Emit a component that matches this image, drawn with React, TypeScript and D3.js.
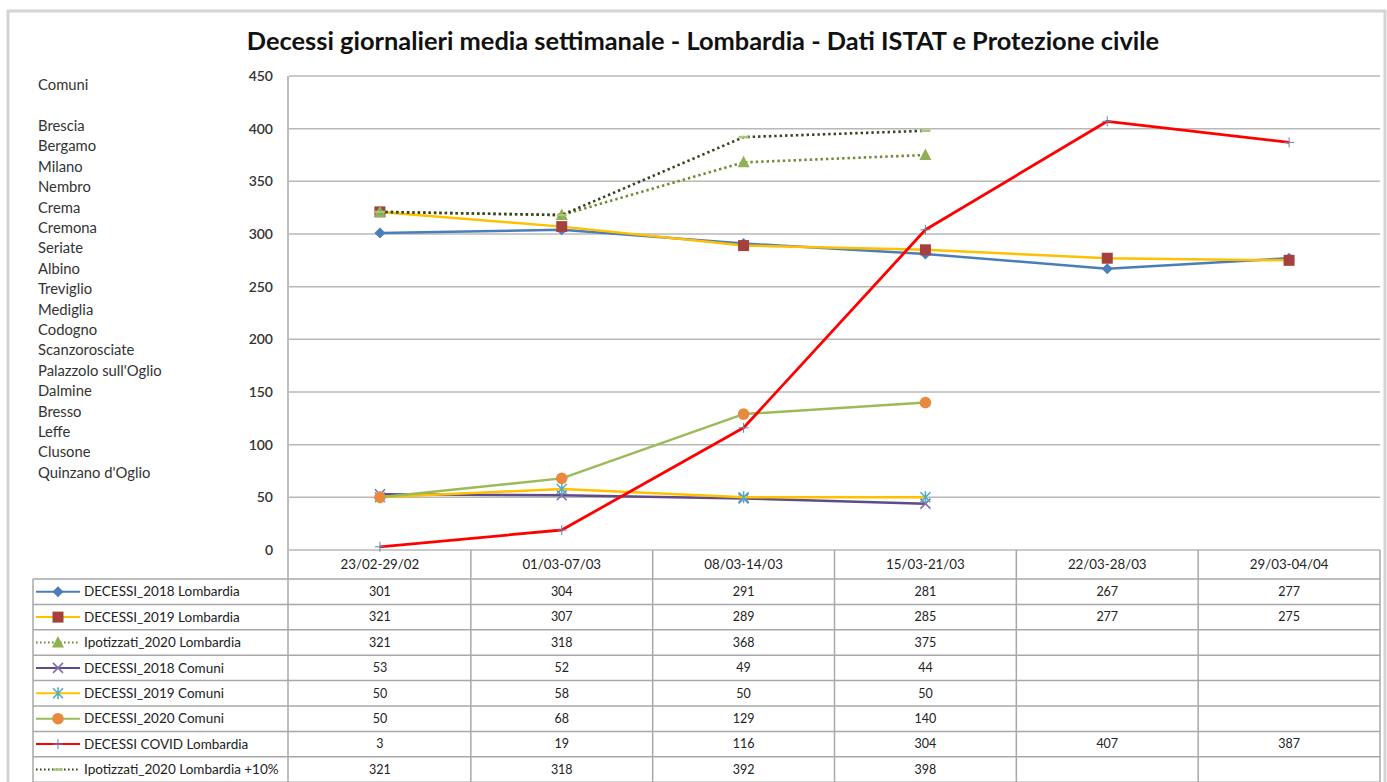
import React from "react";
import * as d3 from "d3";

const categories = ["23/02-29/02", "01/03-07/03", "08/03-14/03", "15/03-21/03", "22/03-28/03", "29/03-04/04"];
const yTicks = [0, 50, 100, 150, 200, 250, 300, 350, 400, 450];
const comuni = [
  "Brescia", "Bergamo", "Milano", "Nembro", "Crema", "Cremona", "Seriate", "Albino", "Treviglio",
  "Mediglia", "Codogno", "Scanzorosciate", "Palazzolo sull'Oglio", "Dalmine", "Bresso", "Leffe",
  "Clusone", "Quinzano d'Oglio",
];

type V = number | null;
const decessi2018Lombardia: V[] = [301, 304, 291, 281, 267, 277];
const decessi2019Lombardia: V[] = [321, 307, 289, 285, 277, 275];
const ipotizzati2020Lombardia: V[] = [321, 318, 368, 375, null, null];
const decessi2018Comuni: V[] = [53, 52, 49, 44, null, null];
const decessi2019Comuni: V[] = [50, 58, 50, 50, null, null];
const decessi2020Comuni: V[] = [50, 68, 129, 140, null, null];
const decessiCovidLombardia: V[] = [3, 19, 116, 304, 407, 387];
const ipotizzati2020Lombardia10: V[] = [321, 318, 392, 398, null, null];

type Series = {
  name: string;
  values: V[];
  line: string;
  dash?: string;
  width: number;
  marker: string;
  mcolor: string;
};

const series: Series[] = [
  { name: "DECESSI_2018 Lombardia", values: decessi2018Lombardia, line: "#4A7EBB", width: 2.5, marker: "diamond", mcolor: "#4A7EBB" },
  { name: "DECESSI_2019 Lombardia", values: decessi2019Lombardia, line: "#FFC000", width: 2.5, marker: "square", mcolor: "#A5403D" },
  { name: "Ipotizzati_2020 Lombardia", values: ipotizzati2020Lombardia, line: "#6F8C35", dash: "2.4,3", width: 2.6, marker: "triangle", mcolor: "#8FB053" },
  { name: "DECESSI_2018 Comuni", values: decessi2018Comuni, line: "#5F4A8B", width: 2.5, marker: "x", mcolor: "#7E6BA8" },
  { name: "DECESSI_2019 Comuni", values: decessi2019Comuni, line: "#FFC000", width: 2.5, marker: "star", mcolor: "#4BACC6" },
  { name: "DECESSI_2020 Comuni", values: decessi2020Comuni, line: "#9BBB59", width: 2.5, marker: "circle", mcolor: "#E9893F" },
  { name: "DECESSI COVID Lombardia", values: decessiCovidLombardia, line: "#FF0000", width: 2.8, marker: "plus", mcolor: "#6A7FB0" },
  { name: "Ipotizzati_2020 Lombardia +10%", values: ipotizzati2020Lombardia10, line: "#36441C", dash: "2.4,3", width: 2.6, marker: "dash", mcolor: "#A9C77A" },
];

const W = 1387;
const H = 782;
const plotLeft = 289;
const plotRight = 1380;
const plotTop = 76;
const plotBottom = 550;
const tableLeft = 33;
const headerBottom = 579;
const rowH = 25.4;

const FONT = "Lato, 'Open Sans', sans-serif";

function Marker({ type, cx, cy, color }: { type: string; cx: number; cy: number; color: string }) {
  switch (type) {
    case "diamond":
      return <path d={`M${cx},${cy - 5.5}L${cx + 5.5},${cy}L${cx},${cy + 5.5}L${cx - 5.5},${cy}Z`} fill={color} />;
    case "square":
      return <rect x={cx - 5.5} y={cy - 5.5} width={11} height={11} fill={color} />;
    case "triangle":
      return <path d={`M${cx},${cy - 6.5}L${cx + 6},${cy + 5}L${cx - 6},${cy + 5}Z`} fill={color} />;
    case "x":
      return (
        <path d={`M${cx - 5},${cy - 5}L${cx + 5},${cy + 5}M${cx - 5},${cy + 5}L${cx + 5},${cy - 5}`} stroke={color} strokeWidth={1.5} fill="none" />
      );
    case "star":
      return (
        <path
          d={`M${cx - 5},${cy - 5}L${cx + 5},${cy + 5}M${cx - 5},${cy + 5}L${cx + 5},${cy - 5}M${cx},${cy - 6}L${cx},${cy + 6}`}
          stroke={color}
          strokeWidth={1.5}
          fill="none"
        />
      );
    case "circle":
      return <circle cx={cx} cy={cy} r={5.8} fill={color} />;
    case "plus":
      return <path d={`M${cx - 5},${cy}L${cx + 5},${cy}M${cx},${cy - 5}L${cx},${cy + 5}`} stroke={color} strokeWidth={1} fill="none" />;
    case "dash":
      return <path d={`M${cx - 5},${cy}L${cx + 5},${cy}`} stroke={color} strokeWidth={2.5} fill="none" />;
    default:
      return null;
  }
}

export default function App() {
  const x = d3.scaleBand<string>().domain(categories).range([plotLeft, plotRight]);
  const y = d3.scaleLinear().domain([0, 450]).range([plotBottom, plotTop]);
  const cx = (i: number) => (x(categories[i]) as number) + x.bandwidth() / 2;

  const line = d3
    .line<V>()
    .defined((d) => d != null)
    .x((_, i) => cx(i))
    .y((d) => y(d as number));

  const colEdges = categories.map((c) => x(c) as number).concat([plotRight]);
  const tableBottom = headerBottom + rowH * series.length;

  return (
    <svg
      width={W}
      height={H}
      style={{ position: "absolute", left: 0, top: 0, background: "#fff" }}
      fontFamily={FONT}
    >
      <rect x={0} y={0} width={W} height={H} fill="#fff" />
      <rect x={8} y={11} width={1377} height={790} fill="#fff" stroke="#D4D4D4" strokeWidth={3} />

      <text x={703} y={50} textAnchor="middle" fontSize={25.4} fontWeight="bold" fill="#111">
        Decessi giornalieri media settimanale - Lombardia - Dati ISTAT e Protezione civile
      </text>

      {/* left text */}
      <text x={38} y={90} fontSize={14.8} fill="#333">Comuni</text>
      {comuni.map((c, i) => (
        <text key={c} x={38} y={131 + i * 20.4} fontSize={14.8} fill="#333">
          {c}
        </text>
      ))}

      {/* gridlines */}
      {yTicks.map((t) => (
        <line key={t} x1={plotLeft} x2={plotRight} y1={y(t)} y2={y(t)} stroke="#B8B8B8" strokeWidth={1.5} />
      ))}
      <line x1={plotLeft - 1} x2={plotLeft - 1} y1={plotTop} y2={tableBottom} stroke="#A8A8A8" strokeWidth={1.5} />
      {yTicks.map((t) => (
        <text key={"l" + t} x={273} y={y(t)} dy="0.35em" textAnchor="end" fontSize={14} fill="#333" fontWeight="600">
          {t}
        </text>
      ))}

      {/* table */}
      <g stroke="#A8A8A8" strokeWidth={1.5}>
        {colEdges.slice(1).map((e, i) => (
          <line key={"v" + i} x1={e} x2={e} y1={plotBottom} y2={tableBottom} />
        ))}
        <line x1={tableLeft} x2={tableLeft} y1={headerBottom} y2={tableBottom} />
        {series.map((_, i) => (
          <line key={"h" + i} x1={tableLeft} x2={plotRight} y1={headerBottom + i * rowH} y2={headerBottom + i * rowH} />
        ))}
        <line x1={tableLeft} x2={plotRight} y1={tableBottom} y2={tableBottom} />
      </g>
      {categories.map((c, i) => (
        <text key={c} x={cx(i)} y={564} dy="0.35em" textAnchor="middle" fontSize={13.3} fill="#222">
          {c}
        </text>
      ))}
      {series.map((s, r) => {
        const my = headerBottom + r * rowH + rowH / 2;
        return (
          <g key={s.name}>
            <line x1={36} x2={80} y1={my} y2={my} stroke={s.line} strokeWidth={2} strokeDasharray={s.dash ? "1.6,2.4" : undefined} />
            <Marker type={s.marker} cx={58} cy={my} color={s.mcolor} />
            <text x={84} y={my} dy="0.35em" fontSize={13.5} fill="#222">
              {s.name}
            </text>
            {s.values.map((v, i) =>
              v == null ? null : (
                <text key={i} x={cx(i)} y={my} dy="0.35em" textAnchor="middle" fontSize={12.5} fill="#222">
                  {v}
                </text>
              )
            )}
          </g>
        );
      })}

      {/* series */}
      {series.map((s) => (
        <g key={"s" + s.name}>
          <path d={line(s.values) || ""} fill="none" stroke={s.line} strokeWidth={s.width} strokeDasharray={s.dash} strokeLinejoin="round" />
          {s.values.map((v, i) => (v == null ? null : <Marker key={i} type={s.marker} cx={cx(i)} cy={y(v)} color={s.mcolor} />))}
        </g>
      ))}
    </svg>
  );
}
